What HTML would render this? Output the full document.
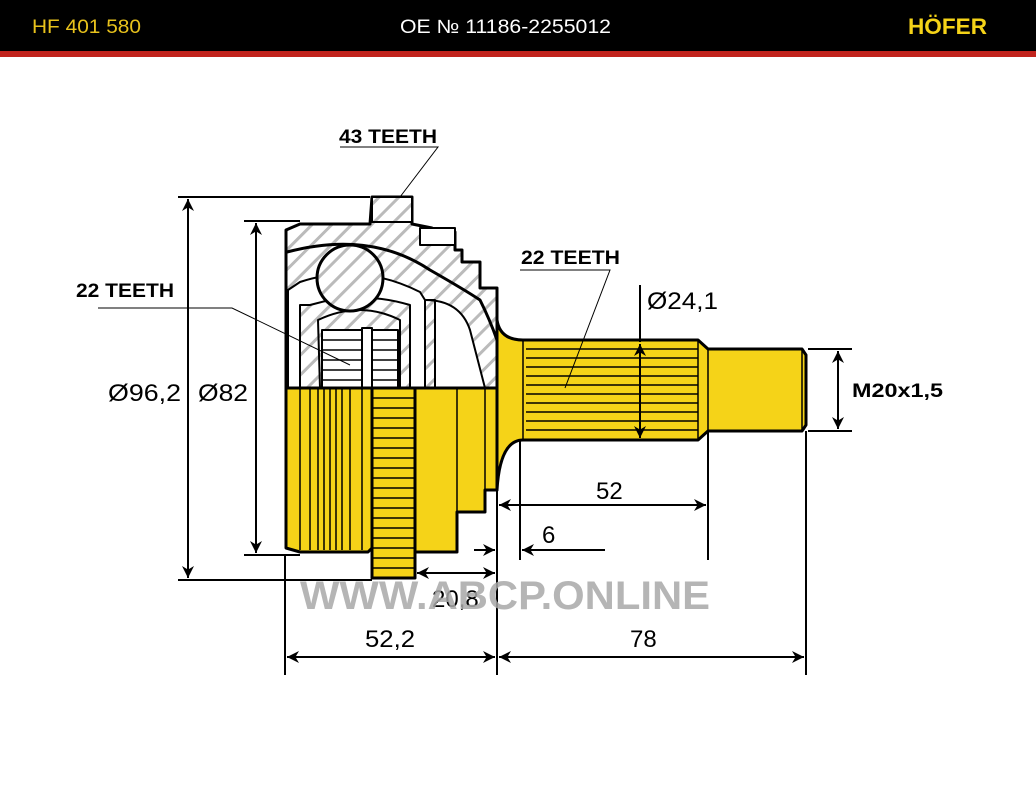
<!DOCTYPE html>
<html><head><meta charset="utf-8"><style>
html,body{margin:0;padding:0;background:#fff;width:1036px;height:800px;overflow:hidden}
svg{display:block}
text{font-family:"Liberation Sans",sans-serif}
</style></head><body>
<svg width="1036" height="800" viewBox="0 0 1036 800" xmlns="http://www.w3.org/2000/svg">
<defs>
<pattern id="h" patternUnits="userSpaceOnUse" width="14" height="14" patternTransform="rotate(45)">
<rect width="14" height="14" fill="#fff"/><rect x="0" y="0" width="3" height="14" fill="#bbb"/>
</pattern>
<marker id="a" viewBox="0 0 10 10" refX="10" refY="5" markerWidth="14" markerHeight="12" orient="auto-start-reverse" markerUnits="userSpaceOnUse"><path d="M0,0 L10,5 L0,10 L3,5z" fill="#000"/></marker>
</defs>
<rect x="0" y="0" width="1036" height="51" fill="#000"/>
<rect x="0" y="51" width="1036" height="6" fill="#c1231c"/>
<text x="32" y="33" font-size="19" fill="#e8c21c" textLength="109" lengthAdjust="spacingAndGlyphs">HF 401 580</text>
<text x="400" y="33" font-size="19" fill="#fff" textLength="211" lengthAdjust="spacingAndGlyphs">OE № 11186-2255012</text>
<text x="908" y="34" font-size="22" font-weight="bold" fill="#f5d318" textLength="79" lengthAdjust="spacingAndGlyphs">HÖFER</text>

<g stroke="#000" stroke-width="3" stroke-linejoin="round">
<path d="M286,388 L286,230 L300,224 L370,224 L372,197 L412,197 L412,224 L432,228 L432,232 L455,232 L455,250 L462,250 L462,262 L480,262 L480,288 L497,288 L497,388 Z" fill="url(#h)"/>
<path d="M372,197 L412,197 L412,222 L372,222Z" fill="url(#h)" stroke-width="2"/>
<path d="M420,228 L455,228 L455,245 L420,245Z" fill="#fff" stroke-width="2"/>
<path d="M287,252 Q370,230 430,270 Q465,290 480,300 Q490,320 497,340" fill="none"/>
<path d="M288,290 L300,282 Q360,262 420,292 L425,300 L425,388 L410,388 L410,305 Q360,290 310,305 L300,305 L300,388 L288,388Z" fill="#fff" stroke-width="2"/>
<path d="M318,320 Q360,300 400,320 L400,388 L320,388Z" fill="url(#h)" stroke-width="2"/>
<rect x="322" y="330" width="76" height="58" fill="#fff" stroke-width="2"/>
<g stroke-width="1.5"><line x1="322" y1="340" x2="398" y2="340"/><line x1="322" y1="350" x2="398" y2="350"/><line x1="322" y1="360" x2="398" y2="360"/><line x1="322" y1="370" x2="398" y2="370"/><line x1="322" y1="380" x2="398" y2="380"/></g>
<rect x="362" y="328" width="10" height="60" fill="#fff" stroke-width="2"/>
<circle cx="350" cy="278" r="33" fill="url(#h)"/>
<path d="M425,300 Q460,300 470,330 L485,388 L435,388 L435,300Z" fill="#fff" stroke-width="2"/>
<path d="M497,320 Q500,340 523,340 L698,340 L708,349 L802,349 L806,355 L806,425 L802,431 L708,431 L698,440 L523,440 Q500,440 497,490 Z" fill="#f5d318"/>
<g stroke-width="1.5">
<line x1="523" y1="340" x2="523" y2="440"/><line x1="698" y1="340" x2="698" y2="440"/><line x1="708" y1="349" x2="708" y2="431"/><line x1="802" y1="349" x2="802" y2="431"/>
<line x1="526" y1="349" x2="698" y2="349"/><line x1="526" y1="358" x2="698" y2="358"/><line x1="526" y1="367" x2="698" y2="367"/><line x1="526" y1="376" x2="698" y2="376"/><line x1="526" y1="385" x2="698" y2="385"/><line x1="526" y1="394" x2="698" y2="394"/><line x1="526" y1="403" x2="698" y2="403"/><line x1="526" y1="412" x2="698" y2="412"/><line x1="526" y1="421" x2="698" y2="421"/><line x1="526" y1="430" x2="698" y2="430"/>
</g>
<path d="M286,388 L497,388 L497,490 L485,490 L485,512 L457,512 L457,552 L415,552 L415,548 L372,548 L368,552 L300,552 L286,548 Z" fill="#f5d318"/>
<g stroke-width="1.5">
<line x1="300" y1="388" x2="300" y2="550"/><line x1="310" y1="388" x2="310" y2="550"/><line x1="318" y1="388" x2="318" y2="550"/><line x1="324" y1="388" x2="324" y2="550"/><line x1="330" y1="388" x2="330" y2="550"/><line x1="336" y1="388" x2="336" y2="550"/><line x1="342" y1="388" x2="342" y2="550"/><line x1="350" y1="388" x2="350" y2="550"/><line x1="362" y1="388" x2="362" y2="550"/>
<line x1="457" y1="388" x2="457" y2="512"/><line x1="485" y1="388" x2="485" y2="490"/>
</g>
<rect x="372" y="388" width="43" height="190" fill="#f5d318"/>
<g stroke-width="1.5">
<line x1="372" y1="398" x2="415" y2="398"/><line x1="372" y1="408" x2="415" y2="408"/><line x1="372" y1="418" x2="415" y2="418"/><line x1="372" y1="428" x2="415" y2="428"/><line x1="372" y1="438" x2="415" y2="438"/><line x1="372" y1="448" x2="415" y2="448"/><line x1="372" y1="458" x2="415" y2="458"/><line x1="372" y1="468" x2="415" y2="468"/><line x1="372" y1="478" x2="415" y2="478"/><line x1="372" y1="488" x2="415" y2="488"/><line x1="372" y1="498" x2="415" y2="498"/><line x1="372" y1="508" x2="415" y2="508"/><line x1="372" y1="518" x2="415" y2="518"/><line x1="372" y1="528" x2="415" y2="528"/><line x1="372" y1="538" x2="415" y2="538"/><line x1="372" y1="548" x2="415" y2="548"/><line x1="372" y1="558" x2="415" y2="558"/><line x1="372" y1="568" x2="415" y2="568"/>
</g>
</g>

<g stroke="#000" stroke-width="2" fill="none">
<line x1="178" y1="197" x2="370" y2="197"/><line x1="178" y1="580" x2="372" y2="580"/>
<line x1="188" y1="199" x2="188" y2="578" marker-start="url(#a)" marker-end="url(#a)"/>
<line x1="244" y1="221" x2="300" y2="221"/><line x1="244" y1="555" x2="300" y2="555"/>
<line x1="256" y1="223" x2="256" y2="553" marker-start="url(#a)" marker-end="url(#a)"/>
<line x1="285" y1="555" x2="285" y2="675"/><line x1="497" y1="490" x2="497" y2="675"/><line x1="806" y1="431" x2="806" y2="675"/>
<line x1="520" y1="440" x2="520" y2="560"/><line x1="708" y1="431" x2="708" y2="560"/>
<line x1="287" y1="657" x2="495" y2="657" marker-start="url(#a)" marker-end="url(#a)"/>
<line x1="499" y1="657" x2="804" y2="657" marker-start="url(#a)" marker-end="url(#a)"/>
<line x1="499" y1="505" x2="706" y2="505" marker-start="url(#a)" marker-end="url(#a)"/>
<line x1="474" y1="550" x2="495" y2="550" marker-end="url(#a)"/>
<line x1="605" y1="550" x2="522" y2="550" marker-end="url(#a)"/>
<line x1="417" y1="573" x2="495" y2="573" marker-start="url(#a)" marker-end="url(#a)"/>
<line x1="640" y1="285" x2="640" y2="342"/>
<line x1="640" y1="344" x2="640" y2="438" marker-start="url(#a)" marker-end="url(#a)"/>
<line x1="808" y1="349" x2="852" y2="349"/><line x1="808" y1="431" x2="852" y2="431"/>
<line x1="838" y1="351" x2="838" y2="429" marker-start="url(#a)" marker-end="url(#a)"/>
</g>
<g stroke="#000" stroke-width="1" fill="none">
<polyline points="340,147 438,147 400,197"/>
<polyline points="520,270 610,270 565,388"/>
<polyline points="98,308 232,308 350,365"/>
</g>

<text x="339" y="143" font-size="19" font-weight="bold" textLength="98" lengthAdjust="spacingAndGlyphs">43 TEETH</text>
<text x="521" y="264" font-size="19" font-weight="bold" textLength="99" lengthAdjust="spacingAndGlyphs">22 TEETH</text>
<text x="76" y="297" font-size="19" font-weight="bold" textLength="98" lengthAdjust="spacingAndGlyphs">22 TEETH</text>
<text x="108" y="401" font-size="24" textLength="73" lengthAdjust="spacingAndGlyphs">Ø96,2</text>
<text x="198" y="401" font-size="24" textLength="50" lengthAdjust="spacingAndGlyphs">Ø82</text>
<text x="647" y="309" font-size="24" textLength="71" lengthAdjust="spacingAndGlyphs">Ø24,1</text>
<text x="852" y="397" font-size="19" font-weight="bold" textLength="91" lengthAdjust="spacingAndGlyphs">M20x1,5</text>
<text x="596" y="499" font-size="24">52</text>
<text x="542" y="543" font-size="24">6</text>
<text x="432" y="607" font-size="24">20,8</text>
<text x="365" y="647" font-size="24" textLength="50" lengthAdjust="spacingAndGlyphs">52,2</text>
<text x="630" y="647" font-size="24">78</text>
<text x="300" y="609" font-size="40" font-weight="bold" fill="#a8a8a8" fill-opacity="0.85" textLength="410" lengthAdjust="spacingAndGlyphs">WWW.ABCP.ONLINE</text>
</svg>
</body></html>
